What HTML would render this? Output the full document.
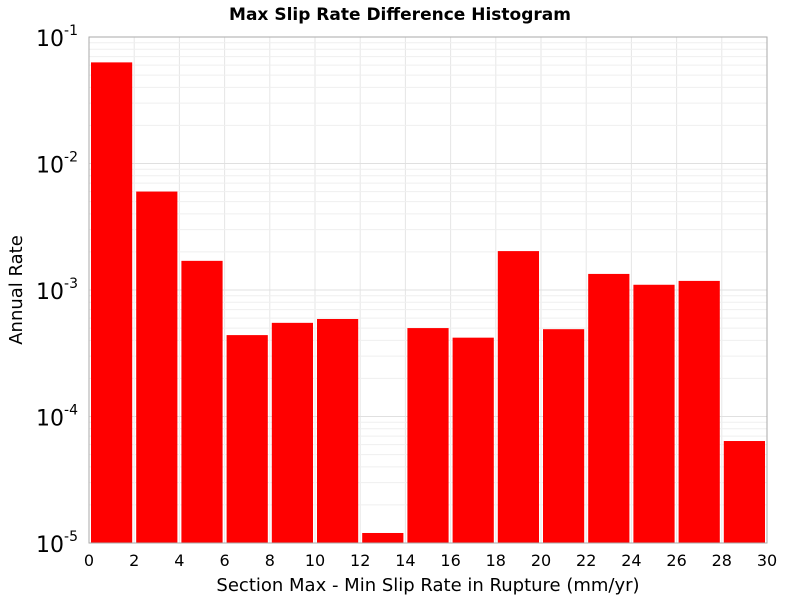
<!DOCTYPE html>
<html><head><meta charset="utf-8"><style>
body{margin:0;background:#fff;font-family:"DejaVu Sans","Liberation Sans",sans-serif}
</style></head><body>
<svg id="chart" width="800" height="600" xmlns="http://www.w3.org/2000/svg">
<text x="400" y="20" text-anchor="middle" font-size="17" font-weight="bold">Max Slip Rate Difference Histogram</text>
<g id="grid"></g><g id="bars"></g><g id="axes"></g>
<text x="428" y="591" text-anchor="middle" font-size="18">Section Max - Min Slip Rate in Rupture (mm/yr)</text>
<text transform="translate(22,290) rotate(-90)" text-anchor="middle" font-size="18">Annual Rate</text>
</svg>
<script>
const binStarts=[0,2,4,6,8,10,12,14,16,18,20,22,24,26,28];
const rates=[0.063,0.0060,0.0017,4.4e-4,5.5e-4,5.9e-4,1.2e-5,5.0e-4,4.2e-4,2.03e-3,4.9e-4,1.34e-3,1.10e-3,1.18e-3,6.4e-5];
const xTicks=[0,2,4,6,8,10,12,14,16,18,20,22,24,26,28,30];
const yExps=[-5,-4,-3,-2,-1];
const binWidth=2;
const L=89,R=767,T=37,B=543;
const X=v=>L+(v-0)/30*(R-L);
const Y=v=>B-(Math.log10(v)+5)/4*(B-T);
const NS="http://www.w3.org/2000/svg";
function mk(tag,attrs,parent){const e=document.createElementNS(NS,tag);for(const k in attrs)e.setAttribute(k,attrs[k]);parent.appendChild(e);return e;}
const grid=document.getElementById('grid'),bars=document.getElementById('bars'),axes=document.getElementById('axes');
for(const t of xTicks){const l=mk('line',{x1:X(t),x2:X(t),y1:T,y2:B,stroke:'#e6e6e6'},grid);

}
for(let e=-5;e<-1;e++){for(let m=1;m<10;m++){const v=m*Math.pow(10,e);const l=mk('line',{x1:L,x2:R,y1:Y(v),y2:Y(v),stroke:m==1?'#e0e0e0':'#efefef'},grid);

}}
binStarts.forEach((s,i)=>{const x0=X(s)+2,x1=X(s+binWidth)-2;const y=Y(rates[i]);
const r=mk('rect',{x:x0,y:y,width:x1-x0,height:B-y,fill:'#ff0000'},bars);

});
const frame=mk('rect',{x:L,y:T,width:R-L,height:B-T,fill:'none',stroke:'#aaa'},axes);


for(const t of xTicks){const tx=mk('text',{x:X(t),y:566,'text-anchor':'middle','font-size':'16'},axes);tx.textContent=t;

}
for(const e of yExps){const g=mk('text',{x:78,y:Y(Math.pow(10,e))+9,'text-anchor':'end','font-size':'22'},axes);


g.textContent='10';const s=mk('tspan',{dy:'-11','font-size':'14'},g);s.textContent=e;}
</script>
</body></html>
